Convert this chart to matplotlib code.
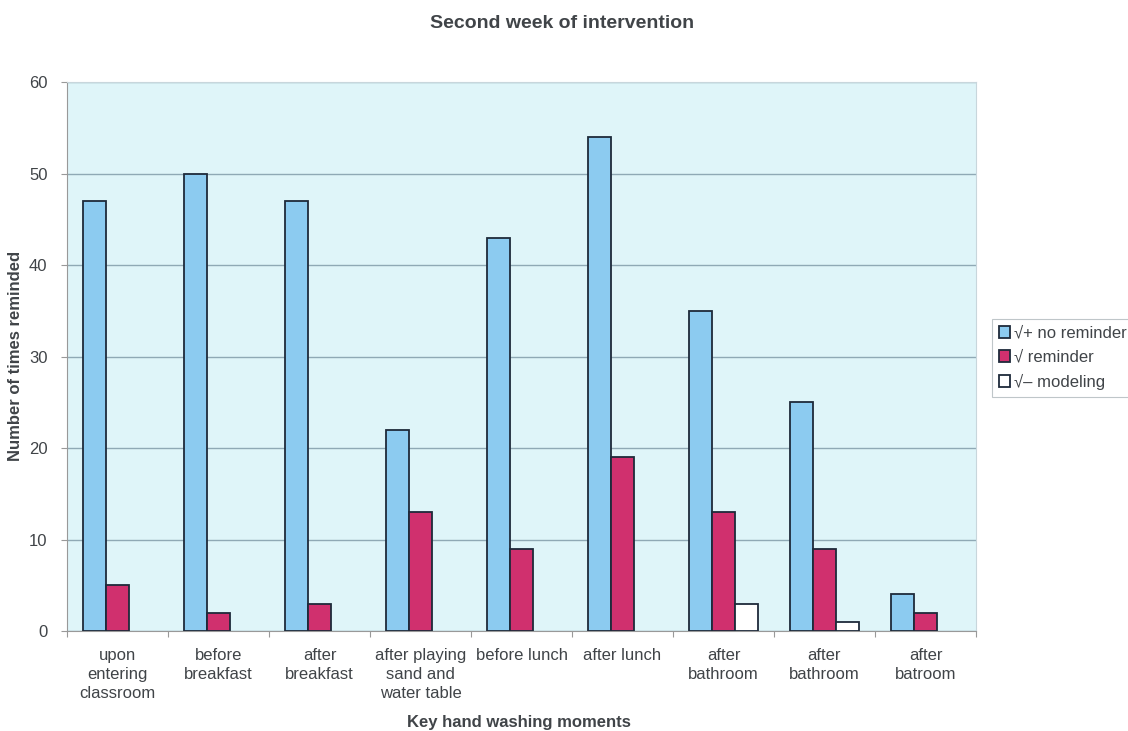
import numpy as np
import matplotlib
matplotlib.use("Agg")
import matplotlib.pyplot as plt

categories = [
    "upon\nentering\nclassroom",
    "before\nbreakfast",
    "after\nbreakfast",
    "after playing\nsand and\nwater table",
    "before lunch",
    "after lunch",
    "after\nbathroom",
    "after\nbathroom",
    "after\nbatroom",
]
no_reminder = [47, 50, 47, 22, 43, 54, 35, 25, 4]
reminder = [5, 2, 3, 13, 9, 19, 13, 9, 2]
modeling = [0, 0, 0, 0, 0, 0, 3, 1, 0]
series_labels = ["\u221a+ no reminder", "\u221a reminder", "\u221a\u2013 modeling"]
yticks = [0, 10, 20, 30, 40, 50, 60]

text_color = "#404448"
plt.rcParams["font.family"] = ["Liberation Sans", "DejaVu Sans"]

fig = plt.figure(figsize=(11.28, 7.31), dpi=100)
ax = fig.add_axes([67 / 1128, 100 / 731, 909 / 1128, 549 / 731])
ax.set_facecolor("#DFF5F9")

x = np.arange(len(categories))
w = 0.225
edge = "#1E2A3A"
ax.bar(x - w, no_reminder, w, color="#8CCBF0", edgecolor=edge, linewidth=1.3,
       label=series_labels[0], zorder=3)
ax.bar(x, reminder, w, color="#D0306E", edgecolor=edge, linewidth=1.3,
       label=series_labels[1], zorder=3)
mod_x = [xi + w for xi, v in zip(x, modeling) if v > 0]
mod_v = [v for v in modeling if v > 0]
ax.bar(mod_x, mod_v, w, color="white", edgecolor=edge, linewidth=1.3,
       label=series_labels[2], zorder=3)

ax.set_xlim(-0.5, len(categories) - 0.5)
ax.set_ylim(0, 60)
ax.set_yticks(yticks)
ax.yaxis.grid(True, color="#8FA9B5", linewidth=1.0, zorder=0)
ax.set_xticks(np.arange(len(categories) + 1) - 0.5, minor=False)
ax.set_xticklabels([""] * (len(categories) + 1))
ax.set_xticks(x, minor=True)
ax.set_xticklabels(categories, minor=True, fontsize=12, color=text_color,
                   linespacing=1.35)
ax.tick_params(axis="x", which="minor", length=0, pad=12)
ax.tick_params(axis="x", which="major", length=4, color="#999999")
ax.tick_params(axis="y", labelsize=12, labelcolor=text_color, length=4,
               color="#999999", pad=10)

for s in ["top", "right"]:
    ax.spines[s].set_color("#C8D6DC")
for s in ["left", "bottom"]:
    ax.spines[s].set_color("#999999")

fig.text(16 / 1128, 1 - 356 / 731, "Number of times reminded", rotation=90,
         ha="center", va="center", fontsize=12, fontweight="bold",
         color=text_color)
fig.text(519 / 1128, 1 - 722 / 731, "Key hand washing moments",
         ha="center", va="center", fontsize=12, fontweight="bold",
         color=text_color)
fig.text(562 / 1128, 1 - 23 / 731, "Second week of intervention",
         ha="center", va="center", fontsize=14, fontweight="bold",
         color=text_color)

leg = ax.legend(loc="upper left", bbox_to_anchor=(992 / 1128, 1 - 319 / 731),
                bbox_transform=fig.transFigure,
                fontsize=12, frameon=True, fancybox=False, handlelength=0.7,
                handleheight=0.7, handletextpad=0.25, borderpad=0.4,
                borderaxespad=0, labelspacing=0.55, edgecolor="#B0B8BC",
                labelcolor=text_color)
leg.get_frame().set_linewidth(0.8)

fig.savefig("out.png", dpi=100, facecolor="white")
